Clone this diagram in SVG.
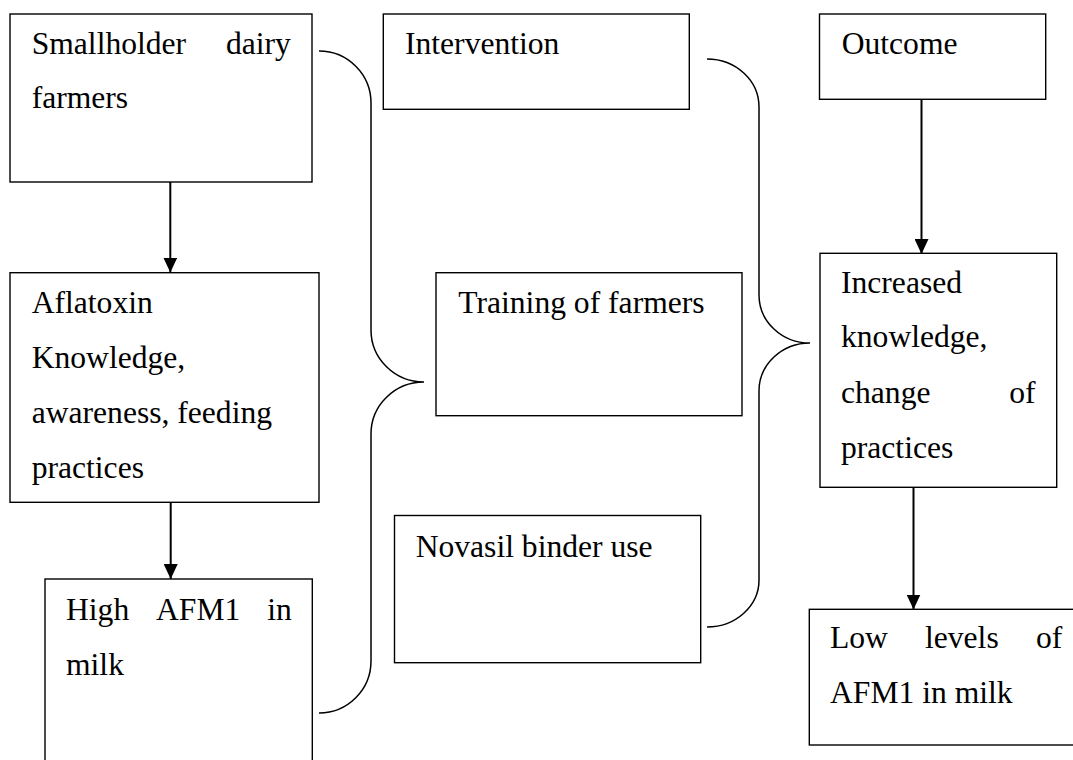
<svg xmlns="http://www.w3.org/2000/svg" width="1073" height="760" viewBox="0 0 1073 760">
<style>
.box{fill:#fff;stroke:#000;stroke-width:1.4}
.t{font-family:"Liberation Serif","Times New Roman",serif;font-size:31.6px;fill:#000}
.brace{fill:none;stroke:#000;stroke-width:1.5}
.arrow{fill:none;stroke:#000;stroke-width:2}
</style>
<defs>
<marker id="ah" markerUnits="userSpaceOnUse" viewBox="0 0 15 14" refX="15" refY="7" markerWidth="15" markerHeight="14" orient="auto">
<path d="M0,0 L15,7 L0,14 z" fill="#000"/>
</marker>
</defs>
<rect width="1073" height="760" fill="#fff"/>

<g id="smallholder">
<rect class="box" x="10" y="14" width="302" height="168"/>
<text class="t" y="54"><tspan x="31.7">Smallholder</tspan><tspan x="226">dairy</tspan></text>
<text class="t" x="31.7" y="108">farmers</text>
</g>

<g id="aflatoxin">
<rect class="box" x="10" y="272.7" width="309" height="229.6"/>
<text class="t" x="31.7" y="313.3">Aflatoxin</text>
<text class="t" x="31.7" y="368">Knowledge,</text>
<text class="t" x="31.7" y="422.8">awareness, feeding</text>
<text class="t" x="31.7" y="477.5">practices</text>
</g>

<g id="high-afm1">
<rect class="box" x="45" y="579" width="267.3" height="200"/>
<text class="t" y="620"><tspan x="66">High</tspan><tspan x="156">AFM1</tspan><tspan x="267.3">in</tspan></text>
<text class="t" x="66" y="675">milk</text>
</g>

<g id="intervention">
<rect class="box" x="383.3" y="14" width="306" height="95.3"/>
<text class="t" x="405" y="54">Intervention</text>
</g>

<g id="training">
<rect class="box" x="436" y="272.7" width="306" height="143"/>
<text class="t" x="458.3" y="313.3">Training of farmers</text>
</g>

<g id="novasil">
<rect class="box" x="394.5" y="515.5" width="306.2" height="147.2"/>
<text class="t" x="415.7" y="556.7">Novasil binder use</text>
</g>

<g id="outcome">
<rect class="box" x="819.5" y="14" width="226.2" height="85.3"/>
<text class="t" x="841.7" y="54">Outcome</text>
</g>

<g id="increased">
<rect class="box" x="820" y="253.3" width="236.7" height="234"/>
<text class="t" x="841" y="292.7">Increased</text>
<text class="t" x="841" y="347.3">knowledge,</text>
<text class="t" y="402.5"><tspan x="841">change</tspan><tspan x="1009.3">of</tspan></text>
<text class="t" x="841" y="457.5">practices</text>
</g>

<g id="low-levels">
<rect class="box" x="809.3" y="609.3" width="280" height="135.7"/>
<text class="t" y="648.3"><tspan x="830">Low</tspan><tspan x="925">levels</tspan><tspan x="1036">of</tspan></text>
<text class="t" x="830" y="702.7">AFM1 in milk</text>
</g>

<g id="connectors">
<path class="brace" d="M319,51 A52,52 0 0 1 371,103 L371,330 A53,52 0 0 0 424,382 A53,52 0 0 0 371,434 L371,661 A52,52 0 0 1 319,713"/>
<path class="brace" d="M707,59 A52,48 0 0 1 759,107 L759,295 A51,48 0 0 0 810,343 A51,48 0 0 0 759,391 L759,580 A52,47 0 0 1 707,627"/>
<line class="arrow" x1="170.3" y1="182" x2="170.3" y2="272.5" marker-end="url(#ah)"/>
<line class="arrow" x1="170.7" y1="502.3" x2="170.7" y2="579" marker-end="url(#ah)"/>
<line class="arrow" x1="921.5" y1="99.3" x2="921.5" y2="254" marker-end="url(#ah)"/>
<line class="arrow" x1="913.5" y1="487.3" x2="913.5" y2="609.5" marker-end="url(#ah)"/>
</g>
</svg>
